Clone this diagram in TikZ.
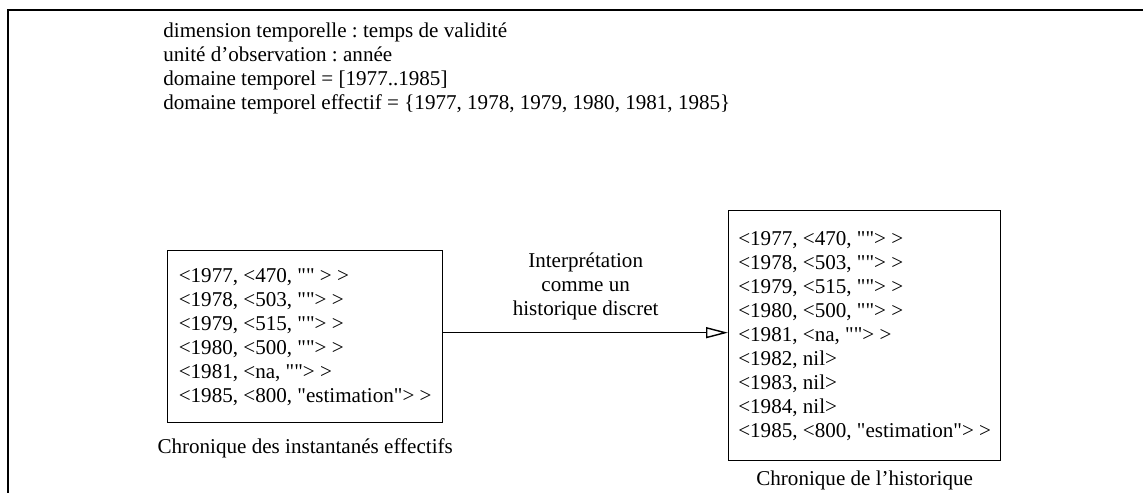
\documentclass[tikz,border=0pt]{standalone}
\usepackage{fontspec}
\setmainfont{Liberation Serif}[Ligatures=TeXOff]
\usepackage{tikz}
\usetikzlibrary{arrows.meta, positioning}
\frenchspacing

\begin{document}
\begin{tikzpicture}[
  x=0.02cm, y=-0.02cm,
  every node/.style={font=\fontsize{12}{13.66}\selectfont},
  chronbox/.style={draw, line width=0.8pt, align=left, anchor=north west},
  frameline/.style={line width=1.3pt}
]
  \useasboundingbox (0,0) rectangle (1143,493);
  % cadre
  \draw[frameline] (8,493) -- (8,10) -- (1143,10);

  \node[align=left, anchor=north west, inner sep=0pt] (info) at (163,22) {
    dimension temporelle : temps de validité\\
    unité d’observation : année\\
    domaine temporel = [1977..1985]\\
    domaine temporel effectif = \{1977, 1978, 1979, 1980, 1981, 1985\}
  };

  \node[chronbox, minimum width=5.5cm, minimum height=3.44cm] (instant) at (167,250) {
    <1977, <470, "" > >\\
    <1978, <503, "">\ >\\
    <1979, <515, "">\ >\\
    <1980, <500, "">\ >\\
    <1981, <na, "">\ >\\
    <1985, <800, "estimation">\ >
  };
  \node[chronbox, minimum width=5.44cm, minimum height=5cm] (histo) at (728,210) {
    <1977, <470, "">\ >\\
    <1978, <503, "">\ >\\
    <1979, <515, "">\ >\\
    <1980, <500, "">\ >\\
    <1981, <na, "">\ >\\
    <1982, nil>\\
    <1983, nil>\\
    <1984, nil>\\
    <1985, <800, "estimation">\ >
  };

  \node[below=0.19cm of instant] (capinstant) {Chronique des instantanés effectifs};
  \node[below=0.07cm of histo] (caphisto) {Chronique de l’historique};

  \draw[line width=0.8pt, -{Triangle[open, length=0.44cm, width=0.22cm]}]
    ([yshift=0.08cm]instant.east) -- ([yshift=0.08cm]instant.east -| histo.west)
    node[midway, above=0.12cm, align=center] (interp) {Interprétation\\comme un\\historique discret};
\end{tikzpicture}
\end{document}
